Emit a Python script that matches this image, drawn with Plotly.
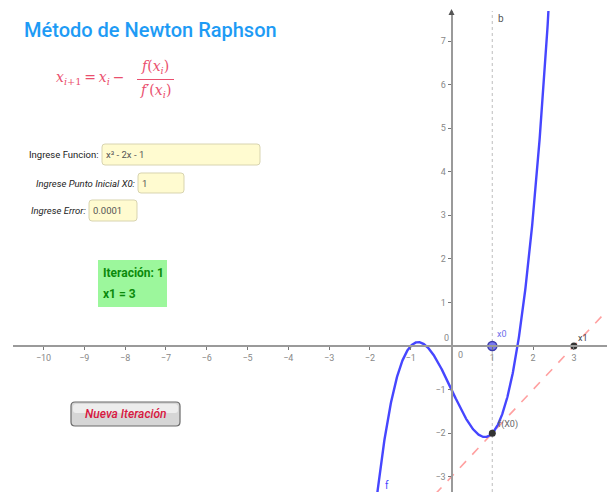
import numpy as np
import plotly.graph_objects as go

W, H = 607, 492

# ---- data ----
coef = [1, 0, -2, -1]          # f(x) = x^3 - 2x - 1
x0_value = 1.0
error_value = "0.0001"
iteration = 1
x_tick_vals = [-10, -9, -8, -7, -6, -5, -4, -3, -2, -1, 1, 2, 3]
y_tick_vals = [-3, -2, -1, 1, 2, 3, 4, 5, 6, 7]

f = np.poly1d(coef)
df = np.polyder(f)
fx0 = f(x0_value)
x1_value = x0_value - fx0 / df(x0_value)

xs = np.linspace(-2.3, 2.7, 600)
ys = f(xs)
xt = np.array([-1.0, 4.5])
yt = fx0 + df(x0_value) * (xt - x0_value)


def px(v):
    return v / W


def py(v):
    return 1 - v / H


def fmt(v):
    return str(v).replace("-", "\u2212")


def rrect(x0, y0, x1, y1, r):
    pts = [
        "M %f %f" % (px(x0 + r), py(y0)),
        "L %f %f" % (px(x1 - r), py(y0)),
        "Q %f %f %f %f" % (px(x1), py(y0), px(x1), py(y0 + r)),
        "L %f %f" % (px(x1), py(y1 - r)),
        "Q %f %f %f %f" % (px(x1), py(y1), px(x1 - r), py(y1)),
        "L %f %f" % (px(x0 + r), py(y1)),
        "Q %f %f %f %f" % (px(x0), py(y1), px(x0), py(y1 - r)),
        "L %f %f" % (px(x0), py(y0 + r)),
        "Q %f %f %f %f" % (px(x0), py(y0), px(x0 + r), py(y0)),
        "Z",
    ]
    return " ".join(pts)


fig = go.Figure()

# dotted vertical line b at x0
fig.add_shape(type="line", xref="x", yref="y domain", x0=x0_value, x1=x0_value, y0=0, y1=1,
              line=dict(color="#c8c8c8", width=1.2, dash="dot"), layer="below")

# tangent line
fig.add_trace(go.Scatter(x=xt, y=yt, mode="lines",
                         line=dict(color="rgb(255,160,160)", width=1.6, dash="dash"),
                         hoverinfo="skip", showlegend=False))
# function curve
fig.add_trace(go.Scatter(x=xs, y=ys, mode="lines",
                         line=dict(color="rgb(70,70,255)", width=2.4),
                         hoverinfo="skip", showlegend=False))
# points
fig.add_trace(go.Scatter(x=[x0_value], y=[0], mode="markers",
                         marker=dict(size=9, color="rgb(120,120,240)", line=dict(color="rgb(60,60,170)", width=1.5)),
                         hoverinfo="skip", showlegend=False))
fig.add_trace(go.Scatter(x=[x0_value, x1_value], y=[fx0, 0], mode="markers",
                         marker=dict(size=7, color="#333333"),
                         hoverinfo="skip", showlegend=False))

annotations = []


def note(x, y, text, font, xanchor="center", yanchor="middle", **kw):
    d = dict(x=x, y=y, text=text, showarrow=False, font=font, xanchor=xanchor, yanchor=yanchor)
    d.update(kw)
    if "xref" not in d:
        d["xref"] = "paper"
        d["yref"] = "paper"
    annotations.append(d)


# point labels
note(x0_value, 0, "x0", dict(family="Roboto", size=9, color="rgb(110,110,235)"),
     xref="x", yref="y", xshift=10, yshift=12)
note(x1_value, 0, "x1", dict(family="Roboto", size=9, color="#444"),
     xref="x", yref="y", xshift=9, yshift=8)
note(x0_value, fx0, "f(X0)", dict(family="Roboto", size=9, color="#666"),
     xref="x", yref="y", xshift=16, yshift=9)
note(px(387), py(485), "f", dict(family="Roboto", size=10, color="rgb(70,70,255)"))
note(px(501), py(18), "b", dict(family="Roboto", size=10, color="#555"))
# zero labels
note(px(460), py(355), "0", dict(family="Roboto", size=9, color="#888"))
note(px(446), py(338), "0", dict(family="Roboto", size=9, color="#888"))

# title
note(px(22), py(30), "Método de Newton Raphson",
     dict(family="Roboto", size=20, color="#1e9bf5", weight=500), xanchor="left")

# formula
fcol = "#ea4f6e"
note(px(54), py(78),
     "<i>x</i><sub><i>i</i>+1</sub>\u2009=\u2009<i>x</i><sub><i>i</i></sub>\u2009\u2212",
     dict(family="DejaVu Serif", size=14, color=fcol), xanchor="left")
note(px(155), py(67), "<i>f</i>(<i>x</i><sub><i>i</i></sub>)",
     dict(family="DejaVu Serif", size=14, color=fcol))
note(px(155), py(91), "<i>f</i>\u2032(<i>x</i><sub><i>i</i></sub>)",
     dict(family="DejaVu Serif", size=14, color=fcol))
fig.add_shape(type="line", xref="paper", yref="paper", x0=px(137), x1=px(174), y0=py(79.5), y1=py(79.5),
              line=dict(color=fcol, width=1))

# input fields
ui_font = "Roboto"
fields = [
    ("Ingrese Funcion:", "x\u00b3 - 2x - 1", 102, 260, 144, 165, False),
    ("Ingrese Punto Inicial X0:", "1", 138, 184, 173, 193, True),
    ("Ingrese Error:", error_value, 89, 137, 200, 221, True),
]
for label, val, bx0, bx1, by0, by1, ital in fields:
    fig.add_shape(type="path", xref="paper", yref="paper", path=rrect(bx0, by0, bx1, by1, 3),
                  line=dict(color="#d8d4b0", width=1), fillcolor="#fffbd0")
    ym = py((by0 + by1) / 2)
    note(px(bx0 - 1), ym, ("<i>%s</i>" % label) if ital else label,
         dict(family=ui_font, size=9.5, color="#222"), xanchor="right")
    note(px(bx0 + 2), ym, val, dict(family=ui_font, size=9.5, color="#555"), xanchor="left")

# green result box
fig.add_shape(type="rect", xref="paper", yref="paper", x0=px(98), x1=px(167), y0=py(260), y1=py(307),
              line=dict(width=0), fillcolor="#9cf79c")
note(px(101), py(273), "<b>Iteración: %d</b>" % iteration,
     dict(family="Roboto", size=12, color="#0b8a0b"), xanchor="left")
note(px(101), py(294), "<b>x1 = %g</b>" % x1_value,
     dict(family="Roboto", size=12, color="#0b8a0b"), xanchor="left")

# button
fig.add_shape(type="path", xref="paper", yref="paper", path=rrect(71, 402, 180, 426, 4),
              line=dict(color="#6a6a6a", width=1.2), fillcolor="#d6d6d6")
fig.add_shape(type="path", xref="paper", yref="paper", path=rrect(73, 404, 178, 413, 3),
              line=dict(width=0), fillcolor="#ededed")
note(px(125.5), py(414), "<i>Nueva Iteración</i>",
     dict(family="Roboto", size=12, color="#d8173f", weight=500))

# y-axis arrow tip
fig.add_shape(type="path", xref="paper", yref="paper",
              path="M %f %f L %f %f L %f %f Z" % (px(448.5), py(15), px(451.5), py(9), px(454.5), py(15)),
              fillcolor="#555", line=dict(width=0))

axis_col = "#9a9a9a"
fig.update_layout(
    width=W, height=H,
    margin=dict(l=0, r=0, t=0, b=0),
    paper_bgcolor="white", plot_bgcolor="white",
    showlegend=False,
    annotations=annotations,
    xaxis=dict(domain=[13 / W, 1], range=[-10.748, 3.811], anchor="free", position=146 / H,
               showline=True, linecolor=axis_col, linewidth=2,
               tickmode="array", tickvals=x_tick_vals, ticktext=[fmt(v) for v in x_tick_vals],
               ticks="outside", ticklen=3, tickcolor="#777", tickwidth=1,
               tickfont=dict(family="Roboto", size=9, color="#888"),
               showgrid=False, zeroline=False, fixedrange=True),
    yaxis=dict(domain=[0, 1 - 11 / H], range=[-3.351, 7.689], anchor="free", position=451.5 / W,
               side="left",
               showline=True, linecolor=axis_col, linewidth=2,
               tickmode="array", tickvals=y_tick_vals, ticktext=[fmt(v) for v in y_tick_vals],
               ticks="outside", ticklen=3, tickcolor="#777", tickwidth=1,
               tickfont=dict(family="Roboto", size=9, color="#888"),
               showgrid=False, zeroline=False, fixedrange=True),
)

fig.write_html("out.html", config={"displayModeBar": False},
               post_script="document.body.style.margin='0px';document.body.style.overflow='hidden';")
